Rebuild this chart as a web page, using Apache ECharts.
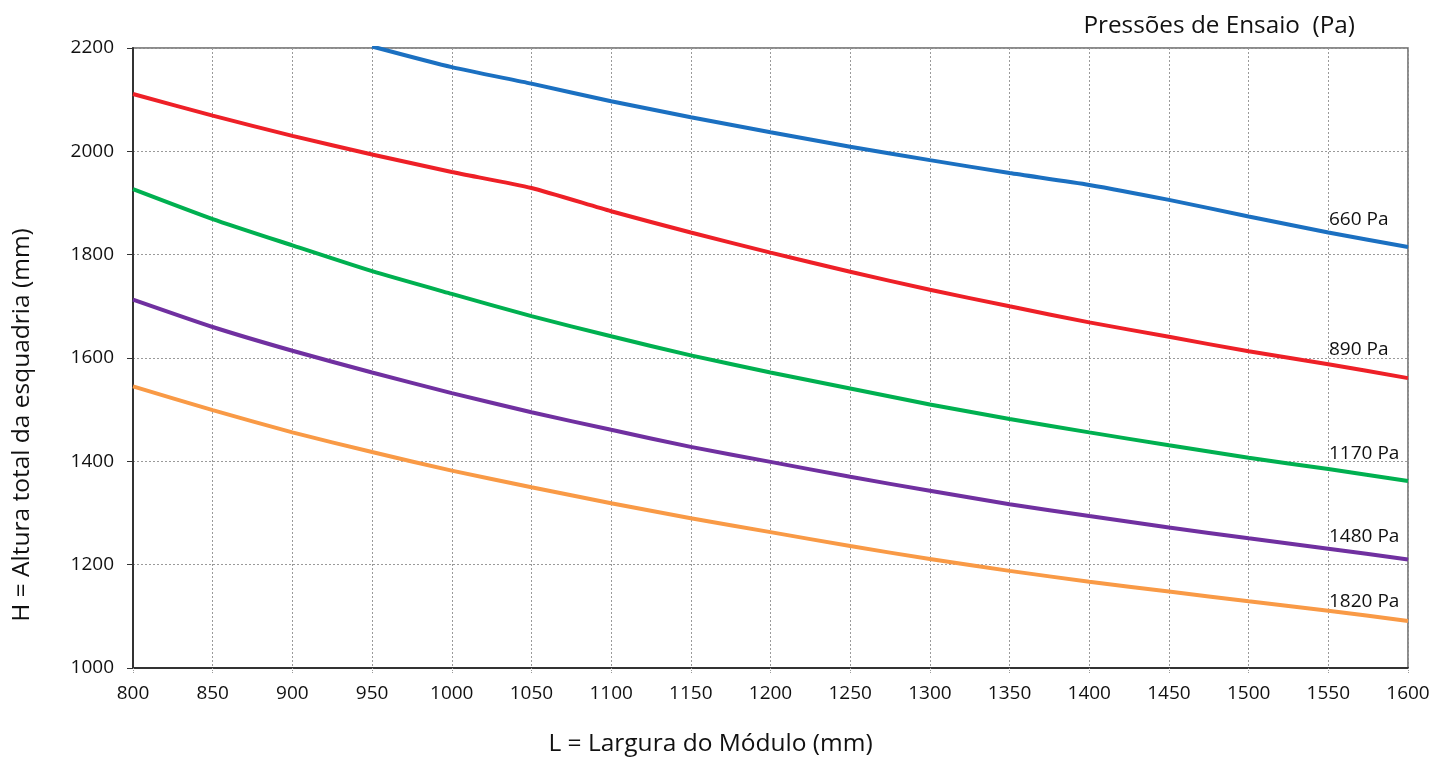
<!DOCTYPE html>
<html>
<head>
<meta charset="utf-8">
<script src="https://cdn.jsdelivr.net/npm/echarts@6/dist/echarts.min.js"></script>
<style>
html,body{margin:0;padding:0;background:#fff;}
#chart{width:1436px;height:761px;}
</style>
</head>
<body>
<div id="chart"></div>
<script>
// Data
const widths = [800, 850, 900, 950, 1000, 1050, 1100, 1150, 1200, 1250, 1300, 1350, 1400, 1450, 1500, 1550, 1600];
const seriesNames = ['660 Pa', '890 Pa', '1170 Pa', '1480 Pa', '1820 Pa'];
const h660  = [null, null, null, 2203, 2163, 2131, 2097, 2066, 2037, 2009, 1983, 1958, 1935, 1906, 1874, 1843, 1815];
const h890  = [2111, 2069, 2030, 1994, 1960, 1929, 1884, 1843, 1804, 1767, 1732, 1700, 1669, 1641, 1613, 1588, 1561];
const h1170 = [1927, 1869, 1818, 1768, 1724, 1681, 1642, 1605, 1572, 1541, 1510, 1482, 1456, 1431, 1407, 1385, 1362];
const h1480 = [1713, 1660, 1614, 1572, 1532, 1495, 1461, 1428, 1399, 1370, 1343, 1317, 1294, 1272, 1251, 1231, 1210];
const h1820 = [1545, 1499, 1456, 1418, 1382, 1350, 1319, 1290, 1263, 1236, 1211, 1188, 1167, 1148, 1129, 1111, 1091];
const xTicks = { min: 800, max: 1600, step: 50 };
const yTicks = { min: 1000, max: 2200, step: 200 };

const allValues = [h660, h890, h1170, h1480, h1820];
const colors = ['#1b70c1', '#ee2027', '#00b050', '#7030a0', '#f99a46'];
const labelOffsetY = [-27, -29, -27, -23, -19];

const FONT = '"Open Sans", "Noto Sans", sans-serif';

const chart = echarts.init(document.getElementById('chart'), null, { renderer: 'canvas' });

const series = allValues.map((vals, i) => ({
  name: seriesNames[i],
  type: 'line',
  data: widths.map((w, k) => [w, vals[k]]).filter(p => p[1] !== null),
  showSymbol: false,
  symbol: 'none',
  smooth: 0.2,
  clip: true,
  lineStyle: { color: colors[i], width: 4 },
  itemStyle: { color: colors[i] },
  endLabel: {
    show: true,
    formatter: seriesNames[i],
    color: '#111',
    fontFamily: FONT,
    fontSize: 19,
    offset: [-87, labelOffsetY[i]]
  },
  z: 3
}));

chart.setOption({
  animation: false,
  backgroundColor: '#fff',
  title: {
    text: 'Pressões de Ensaio  (Pa)',
    right: 76,
    top: 9,
    textStyle: { fontFamily: FONT, fontSize: 24.3, fontWeight: 'normal', color: '#111' }
  },
  grid: {
    left: 133, right: 28, top: 48, bottom: 93,
    outerBoundsMode: 'none',
    containLabel: false,
    show: true, borderColor: '#666', borderWidth: 1.5, backgroundColor: 'transparent'
  },
  xAxis: {
    type: 'value',
    min: xTicks.min, max: xTicks.max, interval: xTicks.step,
    name: 'L = Largura do Módulo (mm)',
    nameLocation: 'middle',
    nameGap: 64,
    nameTextStyle: { fontFamily: FONT, fontSize: 24.5, color: '#111', padding: [0, 120, 0, 0] },
    axisLine: { show: true, onZero: false, lineStyle: { color: '#333', width: 2 } },
    axisTick: { show: true, length: 6, lineStyle: { color: '#999', type: 'dotted' } },
    axisLabel: { fontFamily: FONT, fontSize: 19, color: '#111', margin: 16, formatter: v => String(v) },
    splitLine: { show: true, lineStyle: { color: '#9a9a9a', type: [2, 2], width: 1 } }
  },
  yAxis: {
    type: 'value',
    min: yTicks.min, max: yTicks.max, interval: yTicks.step,
    name: 'H = Altura total da esquadria (mm)',
    nameLocation: 'middle',
    nameGap: 98,
    nameTextStyle: { fontFamily: FONT, fontSize: 24.5, color: '#111', padding: [0, 134, 0, 0] },
    axisLine: { show: true, lineStyle: { color: '#333', width: 2 } },
    axisTick: { show: true, length: 6, lineStyle: { color: '#333' } },
    axisLabel: { fontFamily: FONT, fontSize: 19, color: '#111', margin: 19, formatter: v => String(v) },
    splitLine: { show: true, lineStyle: { color: '#9a9a9a', type: [2, 2], width: 1 } }
  },
  series: series
});
</script>
</body>
</html>
